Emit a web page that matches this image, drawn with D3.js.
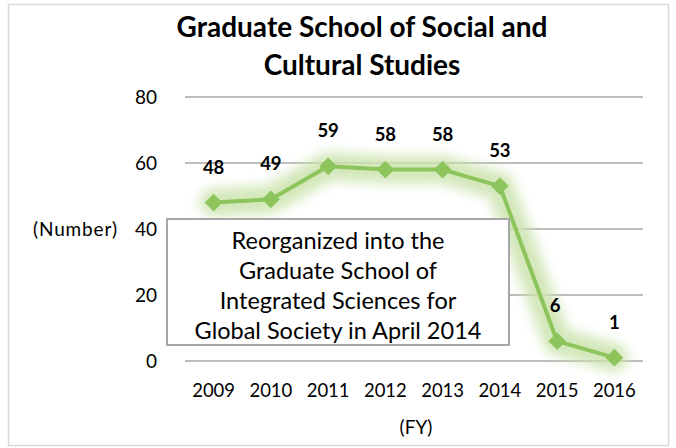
<!DOCTYPE html>
<html><head><meta charset="utf-8">
<script src="https://cdn.jsdelivr.net/npm/d3@7"></script>
<style>body{margin:0;background:#fff}svg{display:block}text{font-family:Lato,"Open Sans",sans-serif}</style>
</head><body>
<script>
const years = ["2009","2010","2011","2012","2013","2014","2015","2016"];
const values = [48,49,59,58,58,53,6,1];
const yTicks = [0,20,40,60,80];
const titleLines = ["Graduate School of Social and","Cultural Studies"];
const noteLines = ["Reorganized into the","Graduate School of","Integrated Sciences for","Global Society in April 2014"];

const W=676,H=448;
const svg=d3.select("body").append("svg").attr("width",W).attr("height",H);
const defs=svg.append("defs");
const f=defs.append("filter").attr("id","glow").attr("x","-20%").attr("y","-30%").attr("width","140%").attr("height","160%");
f.append("feGaussianBlur").attr("stdDeviation",6);

svg.append("rect").attr("x",8.5).attr("y",4.5).attr("width",660).attr("height",441).attr("fill","#fff").attr("stroke","#d9d9d9").attr("stroke-width",1.5);

const x=d3.scaleBand().domain(years).range([185,643]);
const y=d3.scaleLinear().domain([0,80]).range([361,97]);

// title
svg.append("g").selectAll("text").data(titleLines).join("text")
 .attr("x",362).attr("y",(d,i)=>37+i*37.5).attr("text-anchor","middle")
 .attr("font-size",28).attr("font-weight","bold").attr("fill","#000").text(d=>d);

// grid
svg.append("g").selectAll("line").data(yTicks).join("line")
 .attr("x1",185).attr("x2",643).attr("y1",d=>y(d)).attr("y2",d=>y(d))
 .attr("stroke","#a6a6a6").attr("stroke-width",1.5);

// y axis labels
svg.append("g").selectAll("text").data(yTicks).join("text")
 .attr("x",157).attr("y",d=>y(d)+7).attr("text-anchor","end")
 .attr("font-size",19).attr("fill","#000").text(d=>d);
svg.append("text").attr("x",33).attr("y",y(40)+7).attr("font-size",19).attr("textLength",84).text("(Number)");

// x labels
svg.append("g").selectAll("text").data(years).join("text")
 .attr("x",d=>x(d)+x.bandwidth()/2).attr("y",397).attr("text-anchor","middle")
 .attr("font-size",18.5).text(d=>d);
svg.append("text").attr("x",416).attr("y",434).attr("text-anchor","middle").attr("font-size",19).text("(FY)");

const cx=(d,i)=>x(years[i])+x.bandwidth()/2;
const line=d3.line().x((d,i)=>cx(d,i)).y(d=>y(d));

// glow
svg.append("path").datum(values).attr("d",line).attr("fill","none")
 .attr("stroke","#cbe3ad").attr("stroke-width",28).attr("stroke-linejoin","round").attr("stroke-linecap","round")
 .attr("opacity",0.85).attr("filter","url(#glow)");

// note box
svg.append("rect").attr("x",167).attr("y",219).attr("width",342).attr("height",126)
 .attr("fill","#fff").attr("stroke","#a6a6a6").attr("stroke-width",2);
svg.append("g").selectAll("text").data(noteLines).join("text")
 .attr("x",338).attr("y",(d,i)=>249+i*30).attr("text-anchor","middle")
 .attr("font-size",23.5).attr("fill","#000").text(d=>d);

// line
svg.append("path").datum(values).attr("d",line).attr("fill","none")
 .attr("stroke","#8dc55c").attr("stroke-width",4).attr("stroke-linejoin","round");

// markers
svg.append("g").selectAll("path").data(values).join("path")
 .attr("d",d3.symbol().type(d3.symbolDiamond2).size(200))
 .attr("transform",(d,i)=>`translate(${cx(d,i)},${y(d)})`)
 .attr("fill","#8dc55c");

// labels
svg.append("g").selectAll("text").data(values).join("text")
 .attr("x",(d,i)=>cx(d,i)-(i===6?2:0)).attr("y",d=>y(d)-29).attr("text-anchor","middle")
 .attr("font-size",18.5).attr("font-weight","bold").text(d=>d);
</script>
</body></html>
